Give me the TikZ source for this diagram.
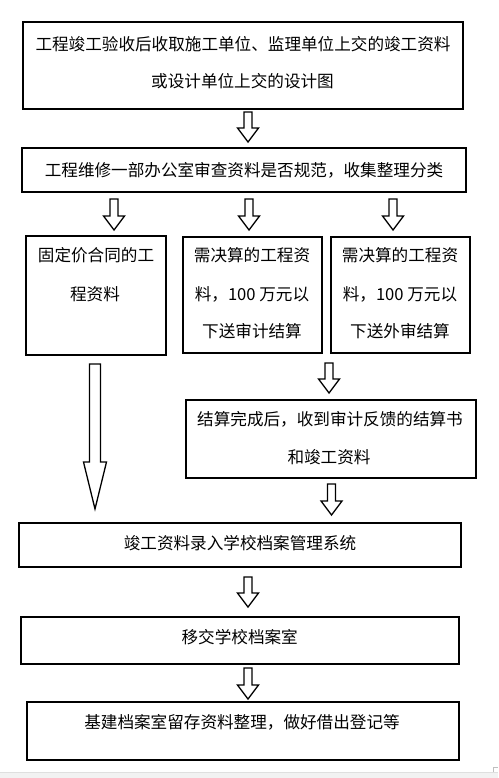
\documentclass[tikz,border=0pt]{standalone}
\usepackage{fontspec}
\newfontfamily\cjk{Noto Sans CJK SC}
\usetikzlibrary{calc,fit}
\tikzset{
  box/.style={draw=black, line width=2pt, inner sep=0pt, outer sep=0pt},
  txt/.style={font=\cjk\fontsize{16.6}{20}\selectfont, inner sep=0pt, text height=0.88em, text depth=0.12em},
  blk/.style={draw=black, line width=1.3pt, fill=white, line join=miter},
}
\newcommand\blkarrow[5]{%
  \draw[blk] let \p1=(#1), \p2=(#2) in
  (\x1-#3,\y1) -- (\x1+#3,\y1) -- (\x1+#3,\y2+#5) -- (\x1+#4,\y2+#5) -- (\x1,\y2)
  -- (\x1-#4,\y2+#5) -- (\x1-#3,\y2+#5) -- cycle;}
\begin{document}
\begin{tikzpicture}[x=1pt,y=-1pt]
\useasboundingbox (0,0) rectangle (498,778);
\fill[white] (0,0) rectangle (498,778);
\fill[gray!10] (0,772) rectangle (498,778);
\draw[gray!25, line width=0.6pt] (0,772) -- (498,772);
\draw[gray!50, line width=0.6pt] (493.5,772) -- (493.5,767.5) -- (498,767.5);

% boxes
\node[box, fit={(22.7,21.7) (463.3,109)}] (b1) {};
\node[box, fit={(21.7,148) (466,192)}] (b2) {};
\node[box, fit={(26,235.7) (166,355)}] (b3) {};
\node[box, fit={(182.7,236.7) (322,353)}] (b4) {};
\node[box, fit={(330.7,236.7) (470,353)}] (b5) {};
\node[box, fit={(185.7,400) (476,477.7)}] (b6) {};
\node[box, fit={(19.3,522.7) (461.3,566.7)}] (b7) {};
\node[box, fit={(21.3,617.3) (459.3,664)}] (b8) {};
\node[box, fit={(26.7,702) (459.3,760)}] (b9) {};

% texts
\node[txt] (t1a) at (243,46.7) {工程竣工验收后收取施工单位、监理单位上交的竣工资料};
\node[txt] (t1b) at (242.5,83.3) {或设计单位上交的设计图};
\node[txt] (t2) at (244,173) {工程维修一部办公室审查资料是否规范，收集整理分类};
\node[txt] (t3a) at (96,258) {固定价合同的工};
\node[txt] (t3b) at (95,297) {程资料};
\node[txt] (t4a) at (252,258) {需决算的工程资};
\node[txt] (t4b) at (252,297) {料，100 万元以};
\node[txt] (t4c) at (252,334) {下送审计结算};
\node[txt] (t5a) at (400,258) {需决算的工程资};
\node[txt] (t5b) at (400,297) {料，100 万元以};
\node[txt] (t5c) at (400,334) {下送外审结算};
\node[txt] (t6a) at (330,422) {结算完成后，收到审计反馈的结算书};
\node[txt] (t6b) at (329,460) {和竣工资料};
\node[txt] (t7) at (240,546) {竣工资料录入学校档案管理系统};
\node[txt] (t8) at (239.7,640) {移交学校档案室};
\node[txt] (t9) at (242,725) {基建档案室留存资料整理，做好借出登记等};

% arrow end points
\coordinate (a1s) at (248,112);   \coordinate (a1e) at (248,142);
\coordinate (a2s) at (114,199);   \coordinate (a2e) at (114,230);
\coordinate (a3s) at (249,199);   \coordinate (a3e) at (249,230);
\coordinate (a4s) at (393,199);   \coordinate (a4e) at (393,230);
\coordinate (a5s) at (95,364);    \coordinate (a5e) at (95,509);
\coordinate (a6s) at (329,363);   \coordinate (a6e) at (329,393);
\coordinate (a7s) at (331.5,484); \coordinate (a7e) at (331.5,515);
\coordinate (a8s) at (248,577);   \coordinate (a8e) at (248,607);
\coordinate (a9s) at (248,668);   \coordinate (a9e) at (248,699);

\blkarrow{a1s}{a1e}{4}{10.5}{14}
\blkarrow{a2s}{a2e}{4}{10.5}{14}
\blkarrow{a3s}{a3e}{4}{10.5}{14}
\blkarrow{a4s}{a4e}{4}{10.5}{14}
\blkarrow{a5s}{a5e}{5.5}{11.5}{47}
\blkarrow{a6s}{a6e}{4}{10.5}{14}
\blkarrow{a7s}{a7e}{4}{10.5}{14}
\blkarrow{a8s}{a8e}{4}{10.5}{14}
\blkarrow{a9s}{a9e}{4}{10.5}{14}
\end{tikzpicture}
\end{document}
